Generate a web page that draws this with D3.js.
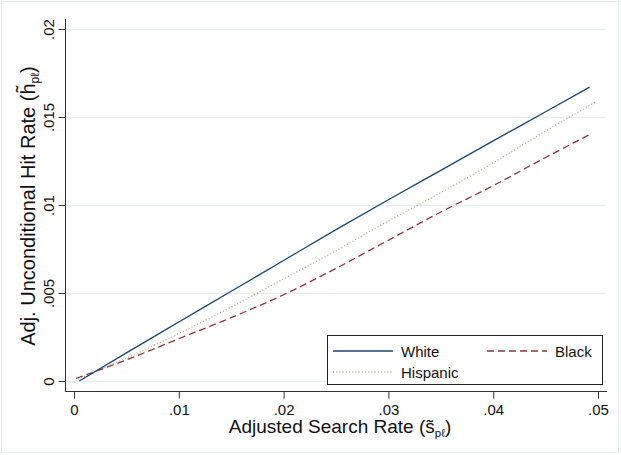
<!DOCTYPE html>
<html>
<head>
<meta charset="utf-8">
<script src="https://cdn.jsdelivr.net/npm/d3@7"></script>
<style>
  html, body { margin: 0; padding: 0; background: #fff; }
  svg { display: block; font-family: "Liberation Sans", Arial, Helvetica, sans-serif; }
</style>
</head>
<body>
<svg id="chart" width="621" height="455"></svg>
<script>
// Adjusted search rate (x) and adjusted unconditional hit rate (y) by group
const whiteRate    = [0.0005, 0.005, 0.01, 0.015, 0.02, 0.025, 0.03, 0.035, 0.04, 0.045, 0.0492];
const whiteHit     = [0.0000, 0.0016, 0.00335, 0.0051, 0.00685, 0.0086, 0.0103, 0.01197, 0.01364, 0.0153, 0.0167];
const blackRate    = [0.0002, 0.005, 0.01, 0.015, 0.02, 0.025, 0.03, 0.035, 0.04, 0.045, 0.0492];
const blackHit     = [0.00015, 0.0012, 0.0024, 0.0036, 0.0049, 0.0064, 0.0080, 0.0096, 0.0111, 0.0127, 0.0140];
const hispanicRate = [0.0004, 0.005, 0.01, 0.015, 0.02, 0.025, 0.03, 0.035, 0.04, 0.045, 0.0499];
const hispanicHit  = [0.0001, 0.0013, 0.0027, 0.0042, 0.0058, 0.0074, 0.0091, 0.0107, 0.0124, 0.0142, 0.0159];

const xTicks = [0, 0.01, 0.02, 0.03, 0.04, 0.05];
const xTickLabels = ["0", ".01", ".02", ".03", ".04", ".05"];
const yTicks = [0, 0.005, 0.01, 0.015, 0.02];
const yTickLabels = ["0", ".005", ".01", ".015", ".02"];

const svg = d3.select("#chart");

// faint outer frame of the graph region
svg.append("rect")
  .attr("x", 1.5).attr("y", 1.5).attr("width", 617).attr("height", 451)
  .attr("fill", "#fff").attr("stroke", "#e4ebee").attr("stroke-width", 1);

const plot = { left: 65, right: 607, top: 19, bottom: 391 };

const x = d3.scaleLinear().domain([0, 0.05]).range([74, 598]);
const y = d3.scaleLinear().domain([0, 0.02]).range([381, 29]);

// horizontal gridlines
svg.append("g").selectAll("line").data(yTicks).join("line")
  .attr("x1", plot.left + 1).attr("x2", plot.right - 1)
  .attr("y1", d => Math.round(y(d)) + 0.5).attr("y2", d => Math.round(y(d)) + 0.5)
  .attr("stroke", "#e6eef0").attr("stroke-width", 1.4);

// y axis
const yAxis = d3.axisLeft(y).tickValues(yTicks).tickSize(7).tickSizeOuter(0)
  .tickFormat((d, i) => yTickLabels[i]);
const gy = svg.append("g").attr("transform", `translate(${plot.left + 0.5},0)`).call(yAxis);
gy.select(".domain").attr("d", `M0,${plot.top}V${plot.bottom}`).attr("stroke", "#333");
gy.selectAll(".tick line").attr("stroke", "#333");
gy.selectAll(".tick text")
  .attr("x", null).attr("dy", null)
  .attr("font-size", 15).attr("fill", "#111")
  .attr("text-anchor", "middle")
  .attr("transform", "translate(-12,0) rotate(-90)");

// x axis
const xAxis = d3.axisBottom(x).tickValues(xTicks).tickSize(7).tickSizeOuter(0)
  .tickFormat((d, i) => xTickLabels[i]);
const gx = svg.append("g").attr("transform", `translate(0,${plot.bottom + 0.5})`).call(xAxis);
gx.select(".domain").attr("d", `M${plot.left},0H${plot.right}`).attr("stroke", "#333");
gx.selectAll(".tick line").attr("stroke", "#333");
gx.selectAll(".tick text")
  .attr("y", 23).attr("dy", null)
  .attr("font-size", 15).attr("fill", "#111");

// series lines
const line = d3.line().x(d => x(d[0])).y(d => y(d[1])).curve(d3.curveMonotoneX);
const series = [
  { name: "White",    xs: whiteRate,    ys: whiteHit,    color: "#1a476f", width: 1.3, dash: null },
  { name: "Black",    xs: blackRate,    ys: blackHit,    color: "#90353b", width: 1.3, dash: "7,4" },
  { name: "Hispanic", xs: hispanicRate, ys: hispanicHit, color: "#b3ad8c", width: 1.3, dash: "1,2.2" }
];
svg.append("g").selectAll("path").data([series[2], series[1], series[0]]).join("path")
  .attr("d", s => line(s.xs.map((v, i) => [v, s.ys[i]])))
  .attr("fill", "none")
  .attr("stroke", s => s.color)
  .attr("stroke-width", s => s.width)
  .attr("stroke-dasharray", s => s.dash);

// legend
const lg = svg.append("g");
lg.append("rect").attr("x", 327.5).attr("y", 335.5).attr("width", 275).attr("height", 49)
  .attr("fill", "#fff").attr("stroke", "#222").attr("stroke-width", 1);
const legendItems = [
  { s: series[0], x: 333, y: 351 },
  { s: series[1], x: 487, y: 351 },
  { s: series[2], x: 333, y: 372 }
];
legendItems.forEach(it => {
  lg.append("line").attr("x1", it.x).attr("x2", it.x + 60)
    .attr("y1", it.y).attr("y2", it.y)
    .attr("stroke", it.s.color).attr("stroke-width", it.s.width)
    .attr("stroke-dasharray", it.s.dash);
  lg.append("text").attr("x", it.x + 68).attr("y", it.y + 5.5)
    .attr("font-size", 15).attr("fill", "#111").text(it.s.name);
});

// axis titles
const xt = svg.append("text").attr("x", 340).attr("y", 433)
  .attr("text-anchor", "middle").attr("font-size", 19).attr("fill", "#111");
xt.append("tspan").text("Adjusted Search Rate (s\u0303");
xt.append("tspan").attr("font-size", 11.5).attr("dy", 4).text("p\u2113");
xt.append("tspan").attr("dy", -4).text(")");

// y title: tilde placed above the h by hand
const yt = svg.append("text")
  .attr("transform", "translate(35,206) rotate(-90)")
  .attr("text-anchor", "middle").attr("font-size", 20).attr("fill", "#111");
yt.append("tspan").text("Adj. Unconditional Hit Rate (h");
yt.append("tspan").attr("dx", -8.9).attr("dy", -5).text("\u02DC");
yt.append("tspan").attr("font-size", 12).attr("dx", 2.2).attr("dy", 9).text("p\u2113");
yt.append("tspan").attr("dy", -4).text(")");
</script>
</body>
</html>
